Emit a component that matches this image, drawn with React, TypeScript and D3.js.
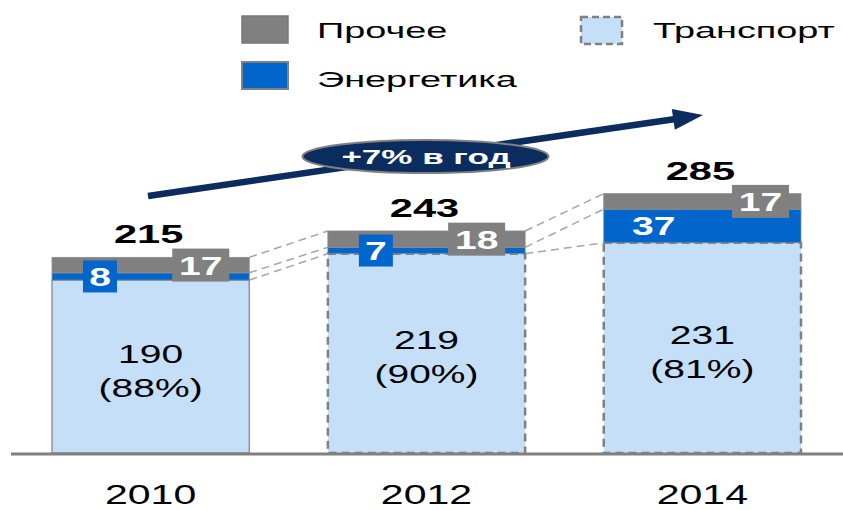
import React from "react";
import * as d3 from "d3";

const years = ["2010", "2012", "2014"];
const transport = [190, 219, 231];
const energy = [8, 7, 37];
const other = [17, 18, 17];
const totals = [215, 243, 285];
const transportShare = ["88%", "90%", "81%"];
const legendLabels = ["Прочее", "Энергетика", "Транспорт"];
const growthLabel = "+7%  в год";

const W = 843;
const H = 510;
const FONT = "'Liberation Sans', Arial, sans-serif";
const GRAY = "#808080";
const BLUE = "#0066CC";
const LIGHT = "#C6DFF8";
const NAVY = "#0B2C5F";

type STProps = {
  x: number; y: number; sx: number; size: number; weight?: string | number;
  fill?: string; anchor?: "start" | "middle" | "end"; children: React.ReactNode;
};
function SText({ x, y, sx, size, weight = "normal", fill = "#000", anchor = "middle", children }: STProps) {
  return (
    <text transform={`translate(${x},${y}) scale(${sx},1)`} fontSize={size} fontWeight={weight}
      fill={fill} textAnchor={anchor} fontFamily={FONT}>{children}</text>
  );
}

export default function App() {
  const rows = years.map((y, i) => ({ year: y, transport: transport[i], energy: energy[i], other: other[i] }));
  const keys = ["transport", "energy", "other"];
  const series = d3.stack<any>().keys(keys)(rows);

  const x = d3.scaleBand<string>().domain(years).range([52, 801]).paddingInner(0.285).paddingOuter(0);
  const y = d3.scaleLinear().domain([0, 300]).range([453, 180]);
  const bw = x.bandwidth();

  const levels = (i: number) => [series[2][i][1], series[1][i][1], series[0][i][1]];

  const a0 = [148, 196];
  const a1 = [703, 115];
  const ang = (Math.atan2(a1[1] - a0[1], a1[0] - a0[0]) * 180) / Math.PI;
  const L = Math.hypot(a1[0] - a0[0], a1[1] - a0[1]);

  return (
    <svg width={W} height={H} style={{ position: "absolute", left: 0, top: 0, background: "#fff" }}>
      <g>
        <rect x={242} y={16} width={46} height={27} fill={GRAY} stroke="#777" strokeWidth={1.5} />
        <SText x={317} y={38} sx={1.72} size={22} anchor="start">{legendLabels[0]}</SText>
        <rect x={242} y={62} width={46} height={27} fill={BLUE} stroke={GRAY} strokeWidth={2} />
        <SText x={317} y={87} sx={1.72} size={22} anchor="start">{legendLabels[1]}</SText>
        <rect x={581} y={17} width={41} height={27} fill={LIGHT} stroke={GRAY} strokeWidth={2.5} strokeDasharray="7 4" />
        <SText x={653} y={38} sx={1.72} size={22} anchor="start">{legendLabels[2]}</SText>
      </g>

      {years.slice(0, -1).map((yr, i) => {
        const l0 = levels(i);
        const l1 = levels(i + 1);
        const xr = (x(yr) as number) + bw;
        const xl = x(years[i + 1]) as number;
        return l0.map((v, k) => (
          <line key={`${i}-${k}`} x1={xr} y1={y(v)} x2={xl} y2={y(l1[k])}
            stroke="#a6a6a6" strokeWidth={1.5} strokeDasharray="8 5" />
        ));
      })}

      {years.map((yr, i) => {
        const bx = x(yr) as number;
        const tTop = y(series[0][i][1]);
        const eTop = y(series[1][i][1]);
        const oTop = y(series[2][i][1]);
        const base = y(0);
        const dashed = i > 0;
        const eH = tTop - eTop;
        const eC = (tTop + eTop) / 2;
        const oC = (eTop + oTop) / 2;
        const tC = (base + tTop) / 2;
        const cx = bx + bw / 2;
        const oRight = eH < 30 ? 20 : 12;
        return (
          <g key={yr}>
            <rect x={bx} y={tTop} width={bw} height={base - tTop} fill={LIGHT}
              stroke={GRAY} strokeWidth={dashed ? 2.5 : 1.2} strokeDasharray={dashed ? "8 5" : undefined} />
            <rect x={bx} y={eTop} width={bw} height={eH} fill={BLUE} stroke="#8c8c8c" strokeWidth={0.8} />
            <rect x={bx} y={oTop} width={bw} height={eTop - oTop} fill={GRAY} stroke="#8c8c8c" strokeWidth={0.8} />

            <SText x={cx} y={tC - 4} sx={1.56} size={25}>{transport[i]}</SText>
            <SText x={cx} y={tC + 30} sx={1.56} size={25}>{`(${transportShare[i]})`}</SText>

            {eH < 30 ? (
              <g>
                <rect x={bx + 31} y={eC - 16} width={34} height={32} fill={BLUE} />
                <SText x={bx + 48} y={eC + 9.5} sx={1.5} size={26} weight="bold" fill="#fff">{energy[i]}</SText>
              </g>
            ) : (
              <SText x={bx + 50} y={eC + 9.5} sx={1.5} size={26} weight="bold" fill="#fff">{energy[i]}</SText>
            )}

            <rect x={bx + bw - oRight - 57} y={oC - 16.5} width={57} height={33} fill={GRAY} />
            <SText x={bx + bw - oRight - 28.5} y={oC + 9.5} sx={1.5} size={26} weight="bold" fill="#fff">{other[i]}</SText>

            <SText x={cx - 2} y={oTop - 14} sx={1.6} size={26} weight="bold">{totals[i]}</SText>

            <SText x={cx} y={504} sx={1.52} size={27}>{yr}</SText>
          </g>
        );
      })}

      <line x1={11} x2={843} y1={454} y2={454} stroke={GRAY} strokeWidth={3} />

      <g transform={`translate(${a0[0]},${a0[1]}) rotate(${ang})`}>
        <rect x={0} y={-3.3} width={L - 26} height={6.6} fill={NAVY} />
        <path d={`M${L - 30},-10.5 L${L},0 L${L - 30},10.5 Z`} fill={NAVY} />
      </g>
      <ellipse cx={425.5} cy={156.5} rx={123} ry={16.5} fill={NAVY} stroke={GRAY} strokeWidth={2} />
      <SText x={426} y={164} sx={1.75} size={20} weight="bold" fill="#fff">{growthLabel}</SText>
    </svg>
  );
}
